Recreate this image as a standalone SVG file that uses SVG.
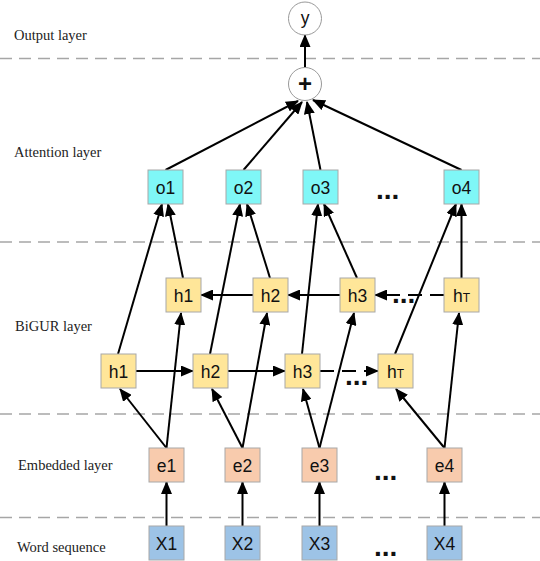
<svg xmlns="http://www.w3.org/2000/svg" width="540" height="561" viewBox="0 0 540 561">
<defs>
<style>
.lbl{font-family:"Liberation Serif","Times New Roman",serif;font-size:14.5px;fill:#222}
.bt{font-family:"Liberation Sans",Arial,sans-serif;font-size:17.5px;fill:#111;text-anchor:middle}
.box{stroke:#A8A8A8;stroke-width:1}
.o{fill:#7FF7F7}
.h{fill:#FFE699}
.e{fill:#F8CBAD}
.x{fill:#9DC3E6}
.sep{stroke:#A6A6A6;stroke-width:1.5;stroke-dasharray:12 7;fill:none}
.c{stroke:#000;stroke-width:2;fill:none;marker-end:url(#ah)}
.d{stroke-dasharray:14 8}
.dots{font-family:"Liberation Sans",Arial,sans-serif;font-size:28px;font-weight:bold;fill:#111}
.circ{fill:#fff;stroke:#999;stroke-width:1}
</style>
<marker id="ah" markerUnits="userSpaceOnUse" markerWidth="13" markerHeight="11" refX="12" refY="5.5" orient="auto">
<path d="M0,0 L13,5.5 L0,11 z" fill="#000" stroke="none"/>
</marker>
</defs>
<rect width="540" height="561" fill="#fff"/>
<g id="separators">
<line class="sep" x1="0" y1="58.5" x2="540" y2="58.5"/>
<line class="sep" x1="0" y1="242" x2="540" y2="242"/>
<line class="sep" x1="0" y1="414" x2="540" y2="414"/>
<line class="sep" x1="0" y1="517.5" x2="540" y2="517.5"/>
</g>
<g id="layer-labels">
<text class="lbl" x="14" y="40">Output layer</text>
<text class="lbl" x="14" y="157">Attention layer</text>
<text class="lbl" x="15" y="331">BiGUR layer</text>
<text class="lbl" x="18" y="470">Embedded layer</text>
<text class="lbl" x="17" y="552">Word sequence</text>
</g>
<g id="connectors">
<line class="c" x1="305" y1="67" x2="305" y2="35"/>
<line class="c" x1="165.5" y1="170" x2="298" y2="101"/>
<line class="c" x1="243.5" y1="170" x2="302" y2="102"/>
<line class="c" x1="320.5" y1="170" x2="307" y2="102"/>
<line class="c" x1="461.5" y1="170" x2="313" y2="100"/>
<line class="c" x1="118" y1="354" x2="162" y2="204"/>
<line class="c" x1="183" y1="278" x2="168" y2="204"/>
<line class="c" x1="210" y1="354" x2="240" y2="204"/>
<line class="c" x1="270" y1="278" x2="247" y2="204"/>
<line class="c" x1="302" y1="354" x2="318" y2="204"/>
<line class="c" x1="357" y1="278" x2="324" y2="204"/>
<line class="c" x1="395" y1="354" x2="456" y2="204"/>
<line class="c" x1="461.5" y1="278" x2="461.5" y2="204"/>
<line class="c" x1="253" y1="295" x2="201" y2="295"/>
<line class="c" x1="340" y1="295" x2="288" y2="295"/>
<line class="c d" x1="444" y1="295" x2="375" y2="295"/>
<line class="c" x1="136" y1="371" x2="193" y2="371"/>
<line class="c" x1="228" y1="371" x2="285" y2="371"/>
<line class="c d" x1="320" y1="371" x2="378" y2="371"/>
<line class="c" x1="166.5" y1="448" x2="120" y2="389"/>
<line class="c" x1="166.5" y1="448" x2="181" y2="313"/>
<line class="c" x1="242.5" y1="448" x2="212" y2="389"/>
<line class="c" x1="242.5" y1="448" x2="267" y2="313"/>
<line class="c" x1="319.5" y1="448" x2="303" y2="389"/>
<line class="c" x1="319.5" y1="448" x2="354" y2="313"/>
<line class="c" x1="444.5" y1="448" x2="396" y2="389"/>
<line class="c" x1="444.5" y1="448" x2="459" y2="313"/>
<line class="c" x1="166.5" y1="526" x2="166.5" y2="482"/>
<line class="c" x1="242.5" y1="526" x2="242.5" y2="482"/>
<line class="c" x1="319.5" y1="526" x2="319.5" y2="482"/>
<line class="c" x1="444.5" y1="526" x2="444.5" y2="482"/>
</g>
<g id="node-y"><circle class="circ" cx="305" cy="18.5" r="16.5"/><text class="bt" x="305" y="24">y</text></g>
<g id="node-plus"><circle class="circ" cx="305" cy="84" r="16.5"/><text class="bt" x="305" y="92" style="font-size:24px;font-weight:bold">+</text></g>
<g id="node-o1"><rect class="box o" x="148" y="170" width="35" height="34"/><text class="bt" x="165.5" y="193.5">o1</text></g>
<g id="node-o2"><rect class="box o" x="226" y="170" width="35" height="34"/><text class="bt" x="243.5" y="193.5">o2</text></g>
<g id="node-o3"><rect class="box o" x="303" y="170" width="35" height="34"/><text class="bt" x="320.5" y="193.5">o3</text></g>
<g id="node-o4"><rect class="box o" x="444" y="170" width="35" height="34"/><text class="bt" x="461.5" y="193.5">o4</text></g>
<g id="node-hb1"><rect class="box h" x="166" y="278" width="35" height="34"/><text class="bt" x="183.5" y="301.5">h1</text></g>
<g id="node-hb2"><rect class="box h" x="253" y="278" width="35" height="34"/><text class="bt" x="270.5" y="301.5">h2</text></g>
<g id="node-hb3"><rect class="box h" x="340" y="278" width="35" height="34"/><text class="bt" x="357.5" y="301.5">h3</text></g>
<g id="node-hbT"><rect class="box h" x="444" y="278" width="35" height="34"/><text class="bt" x="461.5" y="301.5">h<tspan style="font-size:12px">T</tspan></text></g>
<g id="node-hf1"><rect class="box h" x="101" y="354" width="35" height="34"/><text class="bt" x="118.5" y="377.5">h1</text></g>
<g id="node-hf2"><rect class="box h" x="193" y="354" width="35" height="34"/><text class="bt" x="210.5" y="377.5">h2</text></g>
<g id="node-hf3"><rect class="box h" x="285" y="354" width="35" height="34"/><text class="bt" x="302.5" y="377.5">h3</text></g>
<g id="node-hfT"><rect class="box h" x="378" y="354" width="35" height="34"/><text class="bt" x="395.5" y="377.5">h<tspan style="font-size:12px">T</tspan></text></g>
<g id="node-e1"><rect class="box e" x="149" y="448" width="35" height="34"/><text class="bt" x="166.5" y="471.5">e1</text></g>
<g id="node-e2"><rect class="box e" x="225" y="448" width="35" height="34"/><text class="bt" x="242.5" y="471.5">e2</text></g>
<g id="node-e3"><rect class="box e" x="302" y="448" width="35" height="34"/><text class="bt" x="319.5" y="471.5">e3</text></g>
<g id="node-e4"><rect class="box e" x="427" y="448" width="35" height="34"/><text class="bt" x="444.5" y="471.5">e4</text></g>
<g id="node-x1"><rect class="box x" x="149" y="526" width="35" height="34"/><text class="bt" x="166.5" y="549.5">X1</text></g>
<g id="node-x2"><rect class="box x" x="225" y="526" width="35" height="34"/><text class="bt" x="242.5" y="549.5">X2</text></g>
<g id="node-x3"><rect class="box x" x="302" y="526" width="35" height="34"/><text class="bt" x="319.5" y="549.5">X3</text></g>
<g id="node-x4"><rect class="box x" x="427" y="526" width="35" height="34"/><text class="bt" x="444.5" y="549.5">X4</text></g>
<g id="ellipses">
<text class="dots" x="376" y="199">...</text>
<text class="dots" x="392" y="303">...</text>
<text class="dots" x="345" y="385">...</text>
<text class="dots" x="374" y="480">...</text>
<text class="dots" x="374" y="556">...</text>
</g>
</svg>
